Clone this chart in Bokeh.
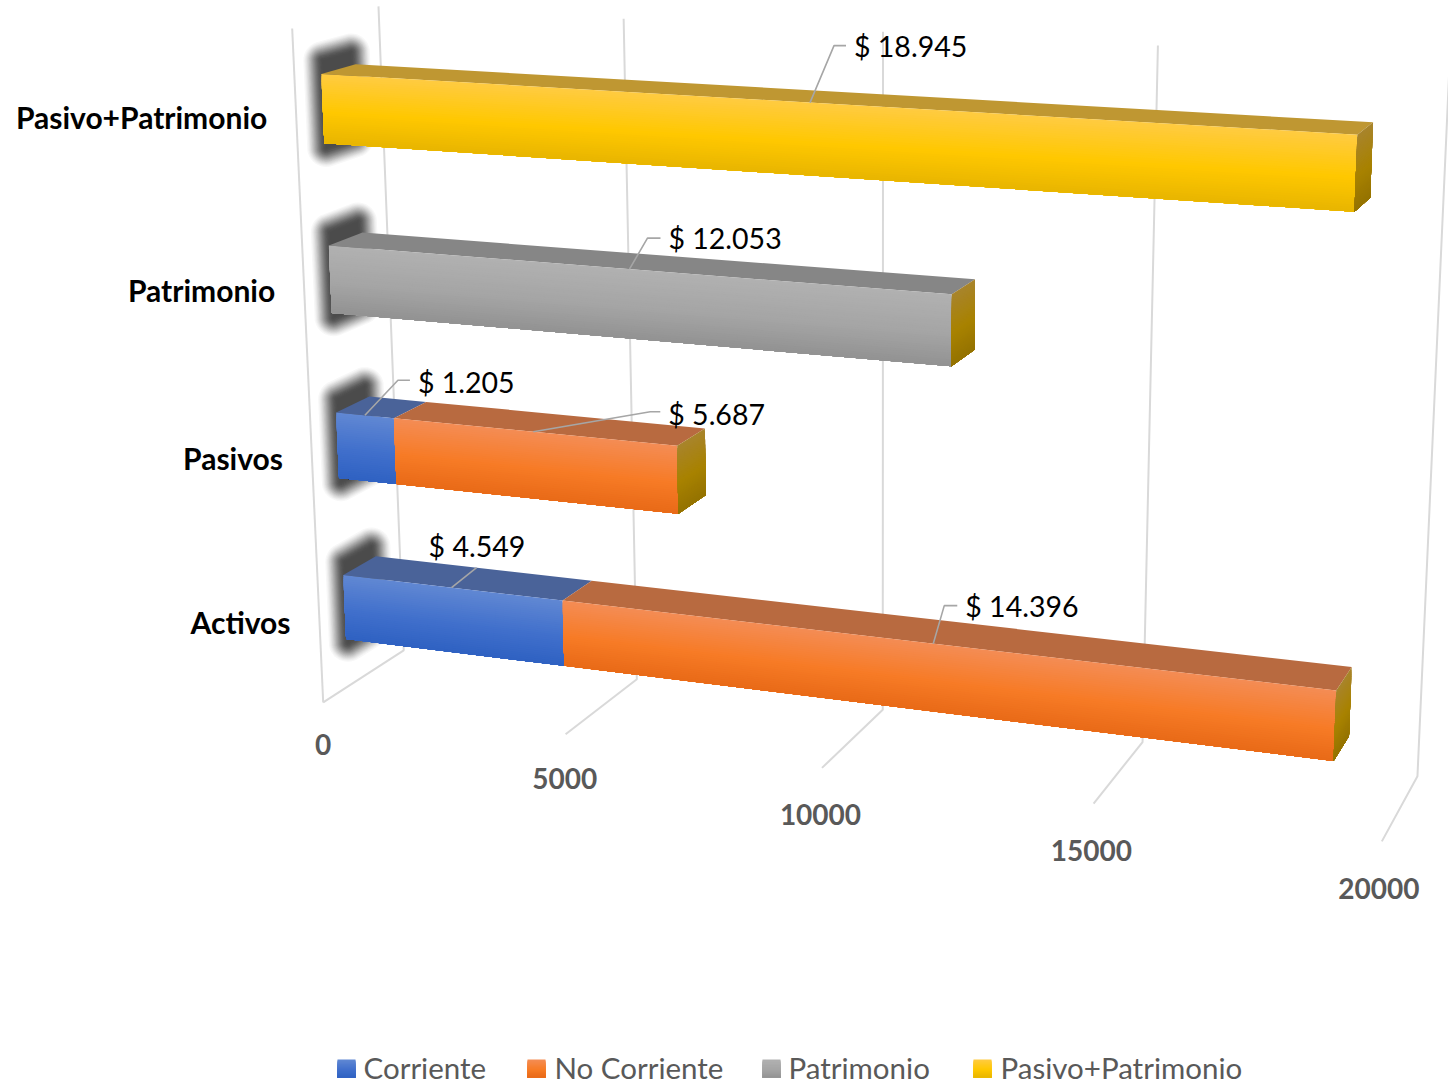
import numpy as np
from bokeh.plotting import figure
from bokeh.models import ColumnDataSource
from bokeh.core.properties import value
from bokeh.embed import file_html
from bokeh.resources import INLINE

# ---- data ----
categories = ["Activos", "Pasivos", "Patrimonio", "Pasivo+Patrimonio"]
series_names = ["Corriente", "No Corriente", "Patrimonio", "Pasivo+Patrimonio"]
corriente = [4549, 1205, 0, 0]
no_corriente = [14396, 5687, 0, 0]
patrimonio = [0, 0, 12053, 0]
pasivo_patrimonio = [0, 0, 0, 18945]
axis_ticks = [0, 5000, 10000, 15000, 20000]
axis_max = 20000

# ---- style: (top, mid, bottom) of front face, top face ----
front = {
    "Corriente": ["#6188D3", "#4170CC", "#2F62C2"],
    "No Corriente": ["#F48D55", "#F77B26", "#E86A17"],
    "Patrimonio": ["#B1B1B1", "#A5A5A5", "#929292"],
    "Pasivo+Patrimonio": ["#FFCB42", "#FFC800", "#E8B500"],
}
topface = {"Corriente": "#4A6399", "No Corriente": "#B86A40",
           "Patrimonio": "#868686", "Pasivo+Patrimonio": "#BF9732"}
side = ["#A8842C", "#A88200", "#947200"]
GRID = "#D9D9D9"
LEAD = "#A6A6A6"
TXT = "#595959"

# ---- perspective camera of the 3-D chart: value fraction, row, depth -> page pixel ----
CAM = np.array([[907.895248, -11.619011, 99.923186, 322.707746],
                [47.152412, -168.841535, -20.764833, 701.949235],
                [-0.109133, -0.013244, 0.048137, 1.0]])
G = 0.3           # gap between a bar and its row boundary
Z0, Z1 = 0.3, 0.7 # depth of the bars


def proj(v, y, z):
    h = CAM @ np.array([v / axis_max, y, z, 1.0])
    return h[0] / h[2], h[1] / h[2]


def hex2rgb(c):
    return np.array([int(c[i:i + 2], 16) for i in (1, 3, 5)], float)


def ramp(stops, t):
    a, b, s = (stops[0], stops[1], t / 0.55) if t < 0.55 else (stops[1], stops[2], (t - 0.55) / 0.45)
    rgb = hex2rgb(a) * (1 - s) + hex2rgb(b) * s
    return "#%02x%02x%02x" % tuple(int(round(c)) for c in rgb)


p = figure(width=1448, height=1085, x_range=(0, 1448), y_range=(1085, 0),
           output_backend="svg", toolbar_location=None, min_border=0,
           outline_line_color=None, background_fill_color="white")
p.axis.visible = False
p.grid.visible = False

# ---- walls and floor ----
gx, gy = [], []
for t in axis_ticks:
    pts = [proj(t, 0, 0), proj(t, 0, 1), proj(t, 4, 1)]
    gx.append([q[0] for q in pts])
    gy.append([q[1] for q in pts])
front_edge = [proj(0, 0, 0), proj(0, 4, 0)]
gx.append([q[0] for q in front_edge])
gy.append([q[1] for q in front_edge])
p.multi_line(gx, gy, line_color=GRID, line_width=2)

# ---- blurred shadow on the wall behind each bar: stacked translucent outlines whose
#      accumulated opacity follows a smooth fall-off ----
angles = np.linspace(0, 2 * np.pi, 40, endpoint=False)
d = np.column_stack([np.cos(angles), np.sin(angles)])
R, LAYERS, PEAK = 22.0, 44, 0.82
alpha = 1 - (1 - PEAK) ** (1 / LAYERS)
rr = np.linspace(0, 1, 200)
fall = PEAK * (1 - (3 * rr ** 2 - 2 * rr ** 3))
radii = [float(np.interp(-(1 - (1 - alpha) ** k), -fall, rr)) * R for k in range(1, LAYERS + 1)]
sx, sy = [], []
for row in range(4):
    core = np.array([proj(0, row + G - 0.03, Z0 + 0.02), proj(0, row + 1 - G + 0.075, Z0 + 0.02),
                     proj(0, row + 1 - G + 0.075, Z1 - 0.05), proj(0, row + G - 0.03, Z1 - 0.05)])
    for r in radii:
        sup = core[np.argmax(core @ d.T, axis=0)] + r * d
        sx.append(list(sup[:, 0]))
        sy.append(list(sup[:, 1]))
p.patches(sx, sy, fill_color="#333333", fill_alpha=alpha, line_color=None)

# ---- bars: each gradient strip reaches to the bottom edge and is painted over by the next ----
xs, ys, cols = [], [], []


def face(a, b, c, d_, col):
    pts = [a, b, c, d_]
    xs.append([q[0] for q in pts])
    ys.append([q[1] for q in pts])
    cols.append(col)


N = 32
for row in (3, 2, 1, 0):
    segs = [("Corriente", corriente[row]), ("No Corriente", no_corriente[row]),
            ("Patrimonio", patrimonio[row]), ("Pasivo+Patrimonio", pasivo_patrimonio[row])]
    yb, yt = row + G, row + 1 - G
    start = 0
    for name, val in segs:
        if not val:
            continue
        end = start + val
        face(proj(start, yt, Z0), proj(end, yt, Z0), proj(end, yt, Z1), proj(start, yt, Z1), topface[name])
        for i in range(N):
            y1 = yt - (yt - yb) * i / N
            face(proj(start, y1, Z0), proj(end, y1, Z0), proj(end, yb, Z0), proj(start, yb, Z0),
                 ramp(front[name], (i + 0.5) / N))
        start = end
    for i in range(N):
        y1 = yt - (yt - yb) * i / N
        face(proj(start, y1, Z0), proj(start, y1, Z1), proj(start, yb, Z1), proj(start, yb, Z0),
             ramp(side, (i + 0.5) / N))
p.patches("x", "y", fill_color="c", line_color=None,
          source=ColumnDataSource(dict(x=xs, y=ys, c=cols)))

# ---- data labels with leader lines ----
# row, start, value, elbow offset, leader end offset, label offset from the anchor
labels = [
    (3, 0, pasivo_patrimonio[3], (24, -57), (36, -57), (44, -57)),
    (2, 0, patrimonio[2], (18, -31), (31, -31), (39, -31)),
    (1, 0, corriente[1], (33, -35), (45, -35), (53, -33)),
    (1, corriente[1], no_corriente[1], (117, -20), (127, -20), (135, -18)),
    (0, 0, corriente[0], (25, -20), (25, -20), (-23, -42)),
    (0, corriente[0], no_corriente[0], (11, -38), (24, -38), (32, -38)),
]
lx, ly, tx, ty, tt = [], [], [], [], []
for row, st, val, e1, e2, e3 in labels:
    ax, ay = proj(st + val / 2, row + 1 - G, Z0)
    lx.append([ax, ax + e1[0], ax + e2[0]])
    ly.append([ay, ay + e1[1], ay + e2[1]])
    tx.append(ax + e3[0])
    ty.append(ay + e3[1])
    tt.append("$ " + f"{val:,}".replace(",", "."))
p.multi_line(lx, ly, line_color=LEAD, line_width=1.6)
p.text(tx, ty, text=tt, text_font=value("Lato"), text_font_size="28.5px", text_color="black",
       text_align="left", text_baseline="middle")

# ---- category labels ----
cx, cy = [], []
for row in range(4):
    a, b = proj(0, row + 0.5, 0)
    cx.append(a - 29)
    cy.append(b)
p.text(cx, cy, text=categories, text_font=value("Lato"), text_font_style="bold", text_font_size="30px",
       text_color="black", text_align="right", text_baseline="middle")

# ---- value axis labels ----
ax_x, ax_y = [], []
for t in axis_ticks:
    a, b = proj(t, 0, 0)
    ax_x.append(a - 3 * t / axis_max)
    ax_y.append(b + 42 + 5 * min(1, 2 * t / axis_max))
p.text(ax_x, ax_y, text=[str(t) for t in axis_ticks], text_font=value("Lato"), text_font_style="bold",
       text_font_size="28px", text_color=TXT, text_align="center", text_baseline="middle")

# ---- legend ----
leg_sw = [337, 527, 762, 973]
leg_tx = [363, 554, 788, 1000]
LEG_Y0, LEG_Y1 = 1059, 1077
bx, by, bc = [], [], []
for x0, name in zip(leg_sw, series_names):
    for i in range(18):
        y1 = LEG_Y0 + (LEG_Y1 - LEG_Y0) * i / 18
        bx.append([x0, x0 + 18, x0 + 18, x0])
        by.append([y1, y1, LEG_Y1, LEG_Y1])
        bc.append(ramp(front[name], (i + 0.5) / 18))
p.patches("x", "y", fill_color="c", line_color=None,
          source=ColumnDataSource(dict(x=bx, y=by, c=bc)))
p.text(leg_tx, [1066.5] * 4, text=series_names, text_font=value("Lato"),
       text_font_size="29.5px", text_color=TXT, text_align="left", text_baseline="middle")

open("out.html", "w").write(file_html(p, INLINE))
